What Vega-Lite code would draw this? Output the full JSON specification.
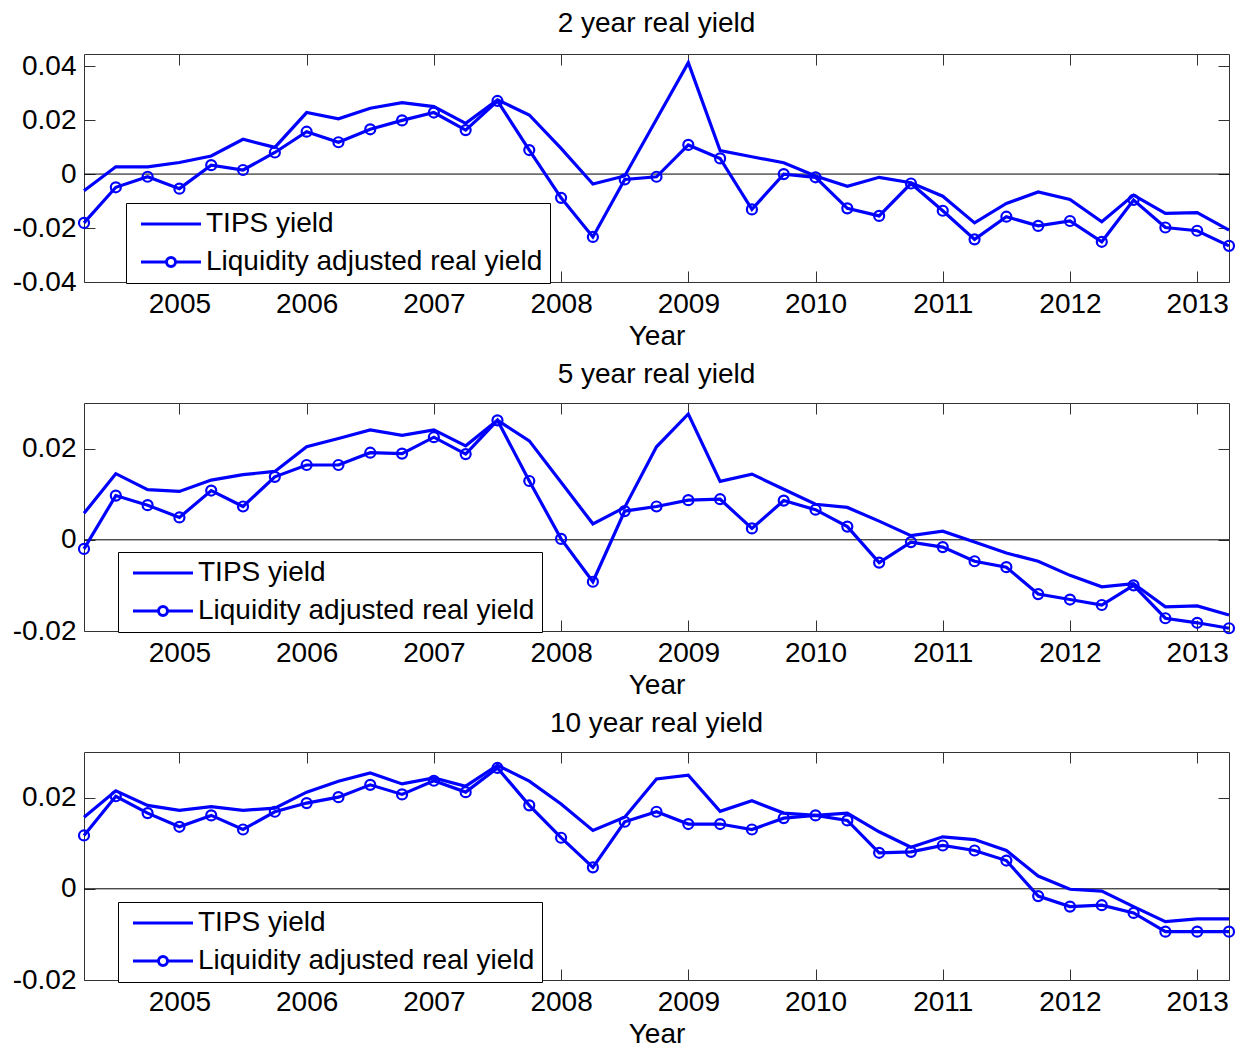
{
  "$schema": "https://vega.github.io/schema/vega-lite/v6.json",
  "padding": {"left": 11, "top": 9, "right": 0, "bottom": 0},
  "datasets": {
    "yields": [
      {"panel": "2y", "year": 2004.25, "TIPS yield": -0.0062, "Liquidity adjusted real yield": -0.0181},
      {"panel": "2y", "year": 2004.5, "TIPS yield": 0.0027, "Liquidity adjusted real yield": -0.0049},
      {"panel": "2y", "year": 2004.75, "TIPS yield": 0.0027, "Liquidity adjusted real yield": -0.0010},
      {"panel": "2y", "year": 2005, "TIPS yield": 0.0043, "Liquidity adjusted real yield": -0.0054},
      {"panel": "2y", "year": 2005.25, "TIPS yield": 0.0067, "Liquidity adjusted real yield": 0.0033},
      {"panel": "2y", "year": 2005.5, "TIPS yield": 0.0129, "Liquidity adjusted real yield": 0.0015},
      {"panel": "2y", "year": 2005.75, "TIPS yield": 0.0099, "Liquidity adjusted real yield": 0.0080},
      {"panel": "2y", "year": 2006, "TIPS yield": 0.0228, "Liquidity adjusted real yield": 0.0157},
      {"panel": "2y", "year": 2006.25, "TIPS yield": 0.0205, "Liquidity adjusted real yield": 0.0118},
      {"panel": "2y", "year": 2006.5, "TIPS yield": 0.0244, "Liquidity adjusted real yield": 0.0166},
      {"panel": "2y", "year": 2006.75, "TIPS yield": 0.0265, "Liquidity adjusted real yield": 0.0199},
      {"panel": "2y", "year": 2007, "TIPS yield": 0.0250, "Liquidity adjusted real yield": 0.0228},
      {"panel": "2y", "year": 2007.25, "TIPS yield": 0.0188, "Liquidity adjusted real yield": 0.0163},
      {"panel": "2y", "year": 2007.5, "TIPS yield": 0.0275, "Liquidity adjusted real yield": 0.0271},
      {"panel": "2y", "year": 2007.75, "TIPS yield": 0.0219, "Liquidity adjusted real yield": 0.0089},
      {"panel": "2y", "year": 2008, "TIPS yield": 0.0095, "Liquidity adjusted real yield": -0.0088},
      {"panel": "2y", "year": 2008.25, "TIPS yield": -0.0037, "Liquidity adjusted real yield": -0.0233},
      {"panel": "2y", "year": 2008.5, "TIPS yield": -0.0007, "Liquidity adjusted real yield": -0.0020},
      {"panel": "2y", "year": 2008.75, "TIPS yield": 0.0203, "Liquidity adjusted real yield": -0.0010},
      {"panel": "2y", "year": 2009, "TIPS yield": 0.0413, "Liquidity adjusted real yield": 0.0108},
      {"panel": "2y", "year": 2009.25, "TIPS yield": 0.0087, "Liquidity adjusted real yield": 0.0058},
      {"panel": "2y", "year": 2009.5, "TIPS yield": 0.0064, "Liquidity adjusted real yield": -0.0131},
      {"panel": "2y", "year": 2009.75, "TIPS yield": 0.0042, "Liquidity adjusted real yield": 0.0000},
      {"panel": "2y", "year": 2010, "TIPS yield": -0.0007, "Liquidity adjusted real yield": -0.0012},
      {"panel": "2y", "year": 2010.25, "TIPS yield": -0.0045, "Liquidity adjusted real yield": -0.0127},
      {"panel": "2y", "year": 2010.5, "TIPS yield": -0.0012, "Liquidity adjusted real yield": -0.0155},
      {"panel": "2y", "year": 2010.75, "TIPS yield": -0.0032, "Liquidity adjusted real yield": -0.0035},
      {"panel": "2y", "year": 2011, "TIPS yield": -0.0082, "Liquidity adjusted real yield": -0.0136},
      {"panel": "2y", "year": 2011.25, "TIPS yield": -0.0181, "Liquidity adjusted real yield": -0.0242},
      {"panel": "2y", "year": 2011.5, "TIPS yield": -0.0109, "Liquidity adjusted real yield": -0.0158},
      {"panel": "2y", "year": 2011.75, "TIPS yield": -0.0066, "Liquidity adjusted real yield": -0.0192},
      {"panel": "2y", "year": 2012, "TIPS yield": -0.0094, "Liquidity adjusted real yield": -0.0174},
      {"panel": "2y", "year": 2012.25, "TIPS yield": -0.0177, "Liquidity adjusted real yield": -0.0251},
      {"panel": "2y", "year": 2012.5, "TIPS yield": -0.0078, "Liquidity adjusted real yield": -0.0096},
      {"panel": "2y", "year": 2012.75, "TIPS yield": -0.0146, "Liquidity adjusted real yield": -0.0198},
      {"panel": "2y", "year": 2013, "TIPS yield": -0.0143, "Liquidity adjusted real yield": -0.0210},
      {"panel": "2y", "year": 2013.25, "TIPS yield": -0.0208, "Liquidity adjusted real yield": -0.0266},

      {"panel": "5y", "year": 2004.25, "TIPS yield": 0.0058, "Liquidity adjusted real yield": -0.0020},
      {"panel": "5y", "year": 2004.5, "TIPS yield": 0.0145, "Liquidity adjusted real yield": 0.0097},
      {"panel": "5y", "year": 2004.75, "TIPS yield": 0.0110, "Liquidity adjusted real yield": 0.0076},
      {"panel": "5y", "year": 2005, "TIPS yield": 0.0106, "Liquidity adjusted real yield": 0.0049},
      {"panel": "5y", "year": 2005.25, "TIPS yield": 0.0131, "Liquidity adjusted real yield": 0.0108},
      {"panel": "5y", "year": 2005.5, "TIPS yield": 0.0143, "Liquidity adjusted real yield": 0.0073},
      {"panel": "5y", "year": 2005.75, "TIPS yield": 0.0150, "Liquidity adjusted real yield": 0.0138},
      {"panel": "5y", "year": 2006, "TIPS yield": 0.0204, "Liquidity adjusted real yield": 0.0164},
      {"panel": "5y", "year": 2006.25, "TIPS yield": 0.0222, "Liquidity adjusted real yield": 0.0164},
      {"panel": "5y", "year": 2006.5, "TIPS yield": 0.0241, "Liquidity adjusted real yield": 0.0191},
      {"panel": "5y", "year": 2006.75, "TIPS yield": 0.0229, "Liquidity adjusted real yield": 0.0189},
      {"panel": "5y", "year": 2007, "TIPS yield": 0.0241, "Liquidity adjusted real yield": 0.0225},
      {"panel": "5y", "year": 2007.25, "TIPS yield": 0.0206, "Liquidity adjusted real yield": 0.0188},
      {"panel": "5y", "year": 2007.5, "TIPS yield": 0.0262, "Liquidity adjusted real yield": 0.0262},
      {"panel": "5y", "year": 2007.75, "TIPS yield": 0.0217, "Liquidity adjusted real yield": 0.0129},
      {"panel": "5y", "year": 2008, "TIPS yield": 0.0126, "Liquidity adjusted real yield": 0.0002},
      {"panel": "5y", "year": 2008.25, "TIPS yield": 0.0035, "Liquidity adjusted real yield": -0.0092},
      {"panel": "5y", "year": 2008.5, "TIPS yield": 0.0071, "Liquidity adjusted real yield": 0.0063},
      {"panel": "5y", "year": 2008.75, "TIPS yield": 0.0204, "Liquidity adjusted real yield": 0.0073},
      {"panel": "5y", "year": 2009, "TIPS yield": 0.0276, "Liquidity adjusted real yield": 0.0087},
      {"panel": "5y", "year": 2009.25, "TIPS yield": 0.0128, "Liquidity adjusted real yield": 0.0089},
      {"panel": "5y", "year": 2009.5, "TIPS yield": 0.0144, "Liquidity adjusted real yield": 0.0025},
      {"panel": "5y", "year": 2009.75, "TIPS yield": 0.0111, "Liquidity adjusted real yield": 0.0086},
      {"panel": "5y", "year": 2010, "TIPS yield": 0.0078, "Liquidity adjusted real yield": 0.0066},
      {"panel": "5y", "year": 2010.25, "TIPS yield": 0.0071, "Liquidity adjusted real yield": 0.0029},
      {"panel": "5y", "year": 2010.5, "TIPS yield": 0.0041, "Liquidity adjusted real yield": -0.0050},
      {"panel": "5y", "year": 2010.75, "TIPS yield": 0.0009, "Liquidity adjusted real yield": -0.0005},
      {"panel": "5y", "year": 2011, "TIPS yield": 0.0019, "Liquidity adjusted real yield": -0.0016},
      {"panel": "5y", "year": 2011.25, "TIPS yield": -0.0005, "Liquidity adjusted real yield": -0.0047},
      {"panel": "5y", "year": 2011.5, "TIPS yield": -0.0029, "Liquidity adjusted real yield": -0.0060},
      {"panel": "5y", "year": 2011.75, "TIPS yield": -0.0047, "Liquidity adjusted real yield": -0.0119},
      {"panel": "5y", "year": 2012, "TIPS yield": -0.0078, "Liquidity adjusted real yield": -0.0131},
      {"panel": "5y", "year": 2012.25, "TIPS yield": -0.0103, "Liquidity adjusted real yield": -0.0143},
      {"panel": "5y", "year": 2012.5, "TIPS yield": -0.0096, "Liquidity adjusted real yield": -0.0100},
      {"panel": "5y", "year": 2012.75, "TIPS yield": -0.0147, "Liquidity adjusted real yield": -0.0172},
      {"panel": "5y", "year": 2013, "TIPS yield": -0.0145, "Liquidity adjusted real yield": -0.0182},
      {"panel": "5y", "year": 2013.25, "TIPS yield": -0.0165, "Liquidity adjusted real yield": -0.0194},

      {"panel": "10y", "year": 2004.25, "TIPS yield": 0.0157, "Liquidity adjusted real yield": 0.0117},
      {"panel": "10y", "year": 2004.5, "TIPS yield": 0.0215, "Liquidity adjusted real yield": 0.0203},
      {"panel": "10y", "year": 2004.75, "TIPS yield": 0.0183, "Liquidity adjusted real yield": 0.0166},
      {"panel": "10y", "year": 2005, "TIPS yield": 0.0172, "Liquidity adjusted real yield": 0.0136},
      {"panel": "10y", "year": 2005.25, "TIPS yield": 0.0180, "Liquidity adjusted real yield": 0.0161},
      {"panel": "10y", "year": 2005.5, "TIPS yield": 0.0172, "Liquidity adjusted real yield": 0.0130},
      {"panel": "10y", "year": 2005.75, "TIPS yield": 0.0177, "Liquidity adjusted real yield": 0.0169},
      {"panel": "10y", "year": 2006, "TIPS yield": 0.0212, "Liquidity adjusted real yield": 0.0188},
      {"panel": "10y", "year": 2006.25, "TIPS yield": 0.0236, "Liquidity adjusted real yield": 0.0201},
      {"panel": "10y", "year": 2006.5, "TIPS yield": 0.0254, "Liquidity adjusted real yield": 0.0228},
      {"panel": "10y", "year": 2006.75, "TIPS yield": 0.0230, "Liquidity adjusted real yield": 0.0207},
      {"panel": "10y", "year": 2007, "TIPS yield": 0.0243, "Liquidity adjusted real yield": 0.0237},
      {"panel": "10y", "year": 2007.25, "TIPS yield": 0.0225, "Liquidity adjusted real yield": 0.0212},
      {"panel": "10y", "year": 2007.5, "TIPS yield": 0.0271, "Liquidity adjusted real yield": 0.0265},
      {"panel": "10y", "year": 2007.75, "TIPS yield": 0.0236, "Liquidity adjusted real yield": 0.0183},
      {"panel": "10y", "year": 2008, "TIPS yield": 0.0186, "Liquidity adjusted real yield": 0.0112},
      {"panel": "10y", "year": 2008.25, "TIPS yield": 0.0128, "Liquidity adjusted real yield": 0.0047},
      {"panel": "10y", "year": 2008.5, "TIPS yield": 0.0157, "Liquidity adjusted real yield": 0.0147},
      {"panel": "10y", "year": 2008.75, "TIPS yield": 0.0241, "Liquidity adjusted real yield": 0.0169},
      {"panel": "10y", "year": 2009, "TIPS yield": 0.0249, "Liquidity adjusted real yield": 0.0142},
      {"panel": "10y", "year": 2009.25, "TIPS yield": 0.0170, "Liquidity adjusted real yield": 0.0142},
      {"panel": "10y", "year": 2009.5, "TIPS yield": 0.0193, "Liquidity adjusted real yield": 0.0130},
      {"panel": "10y", "year": 2009.75, "TIPS yield": 0.0166, "Liquidity adjusted real yield": 0.0155},
      {"panel": "10y", "year": 2010, "TIPS yield": 0.0161, "Liquidity adjusted real yield": 0.0161},
      {"panel": "10y", "year": 2010.25, "TIPS yield": 0.0166, "Liquidity adjusted real yield": 0.0150},
      {"panel": "10y", "year": 2010.5, "TIPS yield": 0.0125, "Liquidity adjusted real yield": 0.0079},
      {"panel": "10y", "year": 2010.75, "TIPS yield": 0.0091, "Liquidity adjusted real yield": 0.0081},
      {"panel": "10y", "year": 2011, "TIPS yield": 0.0114, "Liquidity adjusted real yield": 0.0095},
      {"panel": "10y", "year": 2011.25, "TIPS yield": 0.0108, "Liquidity adjusted real yield": 0.0084},
      {"panel": "10y", "year": 2011.5, "TIPS yield": 0.0084, "Liquidity adjusted real yield": 0.0062},
      {"panel": "10y", "year": 2011.75, "TIPS yield": 0.0028, "Liquidity adjusted real yield": -0.0016},
      {"panel": "10y", "year": 2012, "TIPS yield": -0.0001, "Liquidity adjusted real yield": -0.0039},
      {"panel": "10y", "year": 2012.25, "TIPS yield": -0.0005, "Liquidity adjusted real yield": -0.0036},
      {"panel": "10y", "year": 2012.5, "TIPS yield": -0.0039, "Liquidity adjusted real yield": -0.0053},
      {"panel": "10y", "year": 2012.75, "TIPS yield": -0.0072, "Liquidity adjusted real yield": -0.0094},
      {"panel": "10y", "year": 2013, "TIPS yield": -0.0066, "Liquidity adjusted real yield": -0.0094},
      {"panel": "10y", "year": 2013.25, "TIPS yield": -0.0066, "Liquidity adjusted real yield": -0.0094}
    ]
  },
  "data": {"name": "yields"},
  "spacing": 9,
  "resolve": {
    "scale": {"x": "independent", "y": "independent", "color": "independent"},
    "legend": {"color": "independent"}
  },
  "vconcat": [
    {
      "title": "2 year real yield",
      "width": 1145,
      "height": 228,
      "resolve": {"axis": {"x": "independent", "y": "independent"}},
      "layer": [
        {
          "data": {"values": [{"level": 0}]},
          "mark": {"type": "rule", "color": "black", "strokeWidth": 1},
          "encoding": {
            "y": {"field": "level", "type": "quantitative", "scale": {"domain": [-0.04, 0.0445], "nice": false, "zero": false}, "axis": null}
          }
        },
        {
          "transform": [
            {"filter": "datum.panel === '2y'"},
            {"fold": ["TIPS yield", "Liquidity adjusted real yield"], "as": ["series", "value"]}
          ],
          "mark": {"type": "line", "strokeWidth": 3.2},
          "encoding": {
            "x": {"field": "year", "type": "quantitative", "scale": {"domain": [2004.25, 2013.25], "nice": false, "zero": false},
                  "axis": {"orient": "bottom", "values": [2005, 2006, 2007, 2008, 2009, 2010, 2011, 2012, 2013], "format": "d", "title": "Year"}},
            "y": {"field": "value", "type": "quantitative", "scale": {"domain": [-0.04, 0.0445], "nice": false, "zero": false},
                  "axis": {"orient": "left", "values": [-0.04, -0.02, 0, 0.02, 0.04], "labelExpr": "'' + datum.value", "title": null}},
            "color": {"field": "series", "type": "nominal",
                      "scale": {"domain": ["TIPS yield", "Liquidity adjusted real yield"], "range": ["#0000ff", "#0000ff"]},
                      "legend": {"legendX": 42, "legendY": 149,
                                 "symbolType": {"expr": "datum.value === 'TIPS yield' ? 'M-3,0H3' : 'M-3,0H-0.45A0.45,0.45,0,1,1,0.45,0A0.45,0.45,0,1,1,-0.45,0M0.45,0H3'"}}}
          }
        },
        {
          "transform": [{"filter": "datum.panel === '2y'"}],
          "mark": {"type": "point", "shape": "circle", "filled": false, "color": "#0000ff", "strokeWidth": 2.2, "size": 100, "opacity": 1},
          "encoding": {
            "x": {"field": "year", "type": "quantitative", "scale": {"domain": [2004.25, 2013.25], "nice": false, "zero": false},
                  "axis": {"orient": "top", "values": [2005, 2006, 2007, 2008, 2009, 2010, 2011, 2012, 2013], "labels": false, "title": null}},
            "y": {"field": "Liquidity adjusted real yield", "type": "quantitative", "scale": {"domain": [-0.04, 0.0445], "nice": false, "zero": false},
                  "axis": {"orient": "right", "values": [-0.04, -0.02, 0, 0.02, 0.04], "labels": false, "title": null}}
          }
        }
      ]
    },
    {
      "title": "5 year real yield",
      "width": 1145,
      "height": 228,
      "resolve": {"axis": {"x": "independent", "y": "independent"}},
      "layer": [
        {
          "data": {"values": [{"level": 0}]},
          "mark": {"type": "rule", "color": "black", "strokeWidth": 1},
          "encoding": {
            "y": {"field": "level", "type": "quantitative", "scale": {"domain": [-0.02, 0.03], "nice": false, "zero": false}, "axis": null}
          }
        },
        {
          "transform": [
            {"filter": "datum.panel === '5y'"},
            {"fold": ["TIPS yield", "Liquidity adjusted real yield"], "as": ["series", "value"]}
          ],
          "mark": {"type": "line", "strokeWidth": 3.2},
          "encoding": {
            "x": {"field": "year", "type": "quantitative", "scale": {"domain": [2004.25, 2013.25], "nice": false, "zero": false},
                  "axis": {"orient": "bottom", "values": [2005, 2006, 2007, 2008, 2009, 2010, 2011, 2012, 2013], "format": "d", "title": "Year"}},
            "y": {"field": "value", "type": "quantitative", "scale": {"domain": [-0.02, 0.03], "nice": false, "zero": false},
                  "axis": {"orient": "left", "values": [-0.02, 0, 0.02], "labelExpr": "'' + datum.value", "title": null}},
            "color": {"field": "series", "type": "nominal",
                      "scale": {"domain": ["TIPS yield", "Liquidity adjusted real yield"], "range": ["#0000ff", "#0000ff"]},
                      "legend": {"legendX": 34, "legendY": 149,
                                 "symbolType": {"expr": "datum.value === 'TIPS yield' ? 'M-3,0H3' : 'M-3,0H-0.45A0.45,0.45,0,1,1,0.45,0A0.45,0.45,0,1,1,-0.45,0M0.45,0H3'"}}}
          }
        },
        {
          "transform": [{"filter": "datum.panel === '5y'"}],
          "mark": {"type": "point", "shape": "circle", "filled": false, "color": "#0000ff", "strokeWidth": 2.2, "size": 100, "opacity": 1},
          "encoding": {
            "x": {"field": "year", "type": "quantitative", "scale": {"domain": [2004.25, 2013.25], "nice": false, "zero": false},
                  "axis": {"orient": "top", "values": [2005, 2006, 2007, 2008, 2009, 2010, 2011, 2012, 2013], "labels": false, "title": null}},
            "y": {"field": "Liquidity adjusted real yield", "type": "quantitative", "scale": {"domain": [-0.02, 0.03], "nice": false, "zero": false},
                  "axis": {"orient": "right", "values": [-0.02, 0, 0.02], "labels": false, "title": null}}
          }
        }
      ]
    },
    {
      "title": "10 year real yield",
      "width": 1145,
      "height": 228,
      "resolve": {"axis": {"x": "independent", "y": "independent"}},
      "layer": [
        {
          "data": {"values": [{"level": 0}]},
          "mark": {"type": "rule", "color": "black", "strokeWidth": 1},
          "encoding": {
            "y": {"field": "level", "type": "quantitative", "scale": {"domain": [-0.02, 0.03], "nice": false, "zero": false}, "axis": null}
          }
        },
        {
          "transform": [
            {"filter": "datum.panel === '10y'"},
            {"fold": ["TIPS yield", "Liquidity adjusted real yield"], "as": ["series", "value"]}
          ],
          "mark": {"type": "line", "strokeWidth": 3.2},
          "encoding": {
            "x": {"field": "year", "type": "quantitative", "scale": {"domain": [2004.25, 2013.25], "nice": false, "zero": false},
                  "axis": {"orient": "bottom", "values": [2005, 2006, 2007, 2008, 2009, 2010, 2011, 2012, 2013], "format": "d", "title": "Year"}},
            "y": {"field": "value", "type": "quantitative", "scale": {"domain": [-0.02, 0.03], "nice": false, "zero": false},
                  "axis": {"orient": "left", "values": [-0.02, 0, 0.02], "labelExpr": "'' + datum.value", "title": null}},
            "color": {"field": "series", "type": "nominal",
                      "scale": {"domain": ["TIPS yield", "Liquidity adjusted real yield"], "range": ["#0000ff", "#0000ff"]},
                      "legend": {"legendX": 34, "legendY": 150,
                                 "symbolType": {"expr": "datum.value === 'TIPS yield' ? 'M-3,0H3' : 'M-3,0H-0.45A0.45,0.45,0,1,1,0.45,0A0.45,0.45,0,1,1,-0.45,0M0.45,0H3'"}}}
          }
        },
        {
          "transform": [{"filter": "datum.panel === '10y'"}],
          "mark": {"type": "point", "shape": "circle", "filled": false, "color": "#0000ff", "strokeWidth": 2.2, "size": 100, "opacity": 1},
          "encoding": {
            "x": {"field": "year", "type": "quantitative", "scale": {"domain": [2004.25, 2013.25], "nice": false, "zero": false},
                  "axis": {"orient": "top", "values": [2005, 2006, 2007, 2008, 2009, 2010, 2011, 2012, 2013], "labels": false, "title": null}},
            "y": {"field": "Liquidity adjusted real yield", "type": "quantitative", "scale": {"domain": [-0.02, 0.03], "nice": false, "zero": false},
                  "axis": {"orient": "right", "values": [-0.02, 0, 0.02], "labels": false, "title": null}}
          }
        }
      ]
    }
  ],
  "config": {
    "font": "Liberation Sans",
    "view": {"stroke": "#333333", "strokeWidth": 1},
    "axis": {
      "labelFont": "Liberation Sans", "labelFontSize": 28, "labelColor": "black",
      "titleFont": "Liberation Sans", "titleFontSize": 28, "titleFontWeight": "normal", "titleColor": "black",
      "tickColor": "#333333", "tickSize": -11, "tickWidth": 1, "domain": false, "grid": false,
      "labelPadding": 19, "titlePadding": 4, "labelFlush": false, "labelOverlap": false
    },
    "title": {"font": "Liberation Sans", "fontSize": 28, "fontWeight": "normal", "color": "black", "offset": 14},
    "legend": {
      "orient": "none", "title": null,
      "strokeColor": "black", "fillColor": "white", "padding": 7,
      "labelFont": "Liberation Sans", "labelFontSize": 28, "labelColor": "black", "labelLimit": 0,
      "symbolSize": 400, "symbolOffset": 24, "labelOffset": 21, "rowPadding": 10,
      "symbolStrokeWidth": 3, "symbolStrokeColor": "#0000ff", "symbolFillColor": "transparent"
    },
    "line": {"strokeJoin": "miter"}
  }
}
